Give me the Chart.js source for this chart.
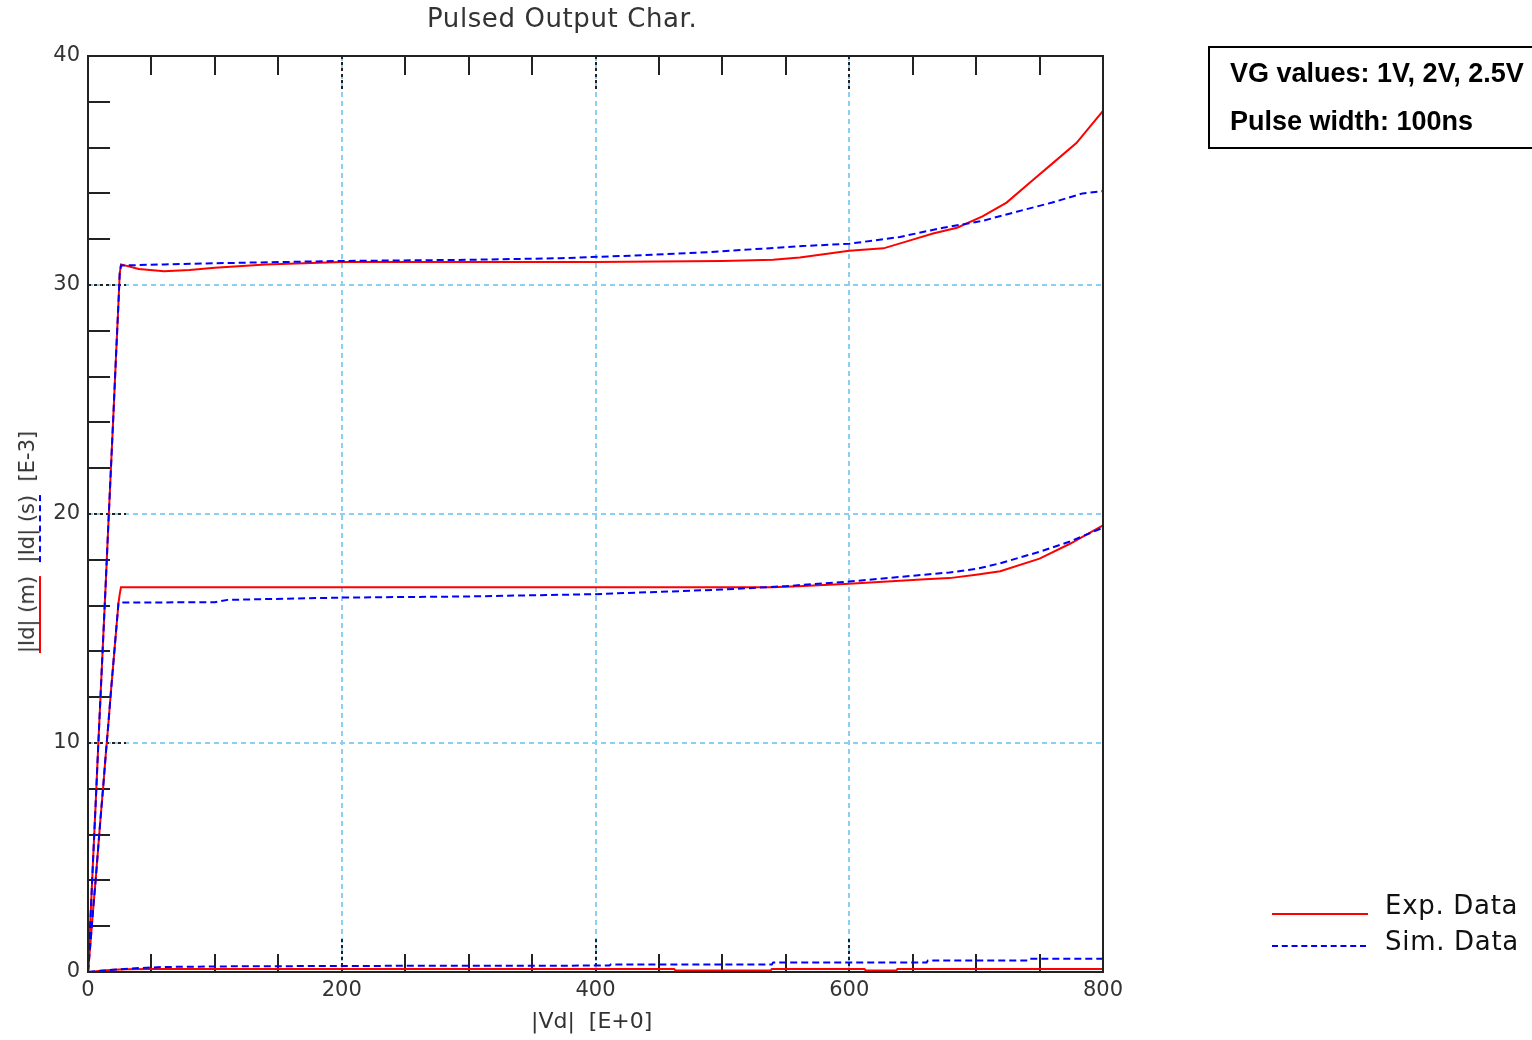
<!DOCTYPE html>
<html>
<head>
<meta charset="utf-8">
<script src="https://cdn.jsdelivr.net/npm/chart.js@4.4.1/dist/chart.umd.min.js"></script>
<style>
  html, body { margin:0; padding:0; background:#fff; }
  body { width:1532px; height:1040px; position:relative; overflow:hidden; font-family:"DejaVu Sans", sans-serif; color:#222; }
  #wrap { position:absolute; left:0; top:0; width:1532px; height:1040px; }
  .abs { position:absolute; white-space:nowrap; }
  #title { left:427px; top:3px; font-size:26px; letter-spacing:0.6px; color:#333; }
  #xTitle { left:531px; top:1008px; font-size:22px; color:#333; }
  #yTitle { left:27px; top:542px; font-size:21px; color:#333; transform:translate(-50%,-50%) rotate(-90deg); }
  #yTitle .m { border-bottom:2px solid #ff0000; }
  #yTitle .s { border-bottom:2px dashed #0000ff; }
  #info { left:1208px; top:46px; width:340px; height:99px; border:2px solid #000; font-family:"Liberation Sans", Arial, sans-serif; font-weight:bold; font-size:27px; color:#000; }
  #info div { position:absolute; left:20px; }
  .lgLine { position:absolute; left:1272px; width:96px; height:0; }
  .lgText { position:absolute; left:1385px; font-size:26px; letter-spacing:0.7px; color:#111; }
</style>
</head>
<body>
<div id="wrap"><canvas id="chart" width="1532" height="1040"></canvas></div>
<div id="title" class="abs">Pulsed Output Char.</div>
<div id="xTitle" class="abs">|Vd|&nbsp; [E+0]</div>
<div id="yTitle" class="abs"><span class="m">|Id| (m)</span>&nbsp; <span class="s">|Id| (s)</span>&nbsp; [E-3]</div>
<div id="info" class="abs">
  <div style="top:10px">VG values: 1V, 2V, 2.5V</div>
  <div style="top:58px">Pulse width: 100ns</div>
</div>
<div class="lgLine" style="top:913px; border-top:2px solid #ff0000;"></div>
<div class="lgText" style="top:890px">Exp. Data</div>
<div class="lgLine" style="top:945px; width:94px; border-top:2px dashed #0000ff;"></div>
<div class="lgText" style="top:926px">Sim. Data</div>
<script>
// |Vd| in V, |Id| in mA (E-3)
const vdExpHigh = [0, 2, 4, 6, 8, 10, 12, 14, 16, 18, 20, 22, 24, 25, 26, 40, 60, 80, 100, 140, 200, 300, 400, 500, 540, 561, 600, 627, 648, 666, 685, 705, 724, 745, 760, 779, 800];
const idExpHigh = [0, 2.4, 4.9, 7.3, 9.8, 12.2, 14.6, 17.0, 19.5, 21.9, 24.3, 26.8, 29.2, 30.5, 30.9, 30.7, 30.6, 30.65, 30.75, 30.9, 31.0, 31.0, 31.0, 31.05, 31.1, 31.2, 31.5, 31.6, 31.95, 32.25, 32.5, 33.0, 33.6, 34.6, 35.3, 36.2, 37.6];
const vdSimHigh = [0, 2, 4, 6, 8, 10, 12, 14, 16, 18, 20, 22, 24, 25, 26, 60, 100, 200, 300, 372, 437, 488, 563, 600, 640, 674, 705, 732, 760, 784, 800];
const idSimHigh = [0, 2.4, 4.9, 7.3, 9.8, 12.2, 14.6, 17.0, 19.5, 21.9, 24.3, 26.8, 29.2, 30.5, 30.85, 30.9, 30.95, 31.05, 31.1, 31.17, 31.3, 31.43, 31.7, 31.8, 32.1, 32.5, 32.8, 33.2, 33.6, 34.0, 34.1];

const vdExpMid = [0, 2, 4, 6, 8, 10, 12, 14, 16, 18, 20, 22, 24, 25, 26, 100, 200, 300, 400, 500, 540, 560, 600, 630, 660, 679, 700, 719, 750, 774, 800];
const idExpMid = [0, 1.3, 2.7, 4.0, 5.4, 6.8, 8.1, 9.5, 10.8, 12.2, 13.5, 14.8, 16.1, 16.5, 16.8, 16.8, 16.8, 16.8, 16.8, 16.8, 16.8, 16.85, 16.95, 17.05, 17.15, 17.2, 17.35, 17.5, 18.05, 18.7, 19.5];
const vdSimMid = [0, 2, 4, 6, 8, 10, 12, 14, 16, 18, 20, 22, 24, 25, 100, 110, 200, 300, 400, 450, 500, 550, 600, 650, 679, 700, 719, 750, 774, 800];
const idSimMid = [0, 1.3, 2.7, 4.0, 5.4, 6.8, 8.1, 9.5, 10.8, 12.2, 13.5, 14.8, 16.1, 16.13, 16.15, 16.25, 16.35, 16.4, 16.5, 16.6, 16.7, 16.85, 17.05, 17.3, 17.45, 17.6, 17.85, 18.35, 18.8, 19.4];

const vdExpLow = [0, 5, 10, 20, 30, 50, 100, 200, 300, 400, 462, 463, 538, 539, 612, 613, 637, 638, 800];
const idExpLow = [0, 0.02, 0.05, 0.1, 0.12, 0.13, 0.13, 0.13, 0.13, 0.13, 0.13, 0.07, 0.07, 0.13, 0.13, 0.07, 0.07, 0.13, 0.13];
const vdSimLow = [0, 10, 20, 40, 60, 120, 250, 411, 412, 539, 540, 661, 662, 741, 742, 800];
const idSimLow = [0, 0.05, 0.1, 0.17, 0.22, 0.25, 0.27, 0.28, 0.33, 0.33, 0.42, 0.42, 0.5, 0.5, 0.58, 0.58];

const xMajor = [0, 200, 400, 600, 800];
const yMajor = [0, 10, 20, 30, 40];

const pts = (xs, ys) => xs.map((v, i) => ({ x: v, y: ys[i] }));
const expStyle = { borderColor:'#ff0000', borderWidth:2, pointRadius:0, showLine:true, order:1 };
const simStyle = { borderColor:'#0000ff', borderWidth:2, borderDash:[7,4], pointRadius:0, showLine:true, order:0 };

const axisFrame = {
  id: 'axisFrame',
  beforeDatasetsDraw(chart){
    const { ctx, chartArea:a, scales:{ x, y } } = chart;
    ctx.save();
    ctx.strokeStyle = '#222';
    ctx.lineWidth = 2;
    for (let v = 50; v < 800; v += 50) {
      const px = Math.round(x.getPixelForValue(v));
      const major = xMajor.includes(v);
      ctx.setLineDash(major ? [3,3] : []);
      ctx.beginPath();
      ctx.moveTo(px, a.top); ctx.lineTo(px, a.top + (major ? 36 : 19));
      ctx.moveTo(px, a.bottom); ctx.lineTo(px, a.bottom - (major ? 33 : 18));
      ctx.stroke();
    }
    for (let v = 2; v < 40; v += 2) {
      const py = Math.round(y.getPixelForValue(v));
      const major = yMajor.includes(v);
      ctx.setLineDash(major ? [3,3] : []);
      ctx.beginPath();
      ctx.moveTo(a.left, py); ctx.lineTo(a.left + (major ? 38 : 22), py);
      ctx.stroke();
    }
    ctx.restore();
  },
  afterDatasetsDraw(chart){
    const { ctx, chartArea:a } = chart;
    ctx.save();
    ctx.strokeStyle = '#222';
    ctx.lineWidth = 2;
    ctx.strokeRect(a.left, a.top, a.right - a.left, a.bottom - a.top);
    ctx.restore();
  }
};

const gridColor = majors => c => {
  const v = c.tick && c.tick.value;
  return (majors.includes(v) && v !== majors[0] && v !== majors[majors.length - 1]) ? '#8ccff2' : 'rgba(0,0,0,0)';
};

new Chart(document.getElementById('chart'), {
  type: 'scatter',
  data: {
    datasets: [
      { label:'Exp. Data', data: pts(vdExpHigh, idExpHigh), ...expStyle },
      { label:'Exp. Data', data: pts(vdExpMid, idExpMid), ...expStyle },
      { label:'Exp. Data', data: pts(vdExpLow, idExpLow), ...expStyle },
      { label:'Sim. Data', data: pts(vdSimHigh, idSimHigh), ...simStyle },
      { label:'Sim. Data', data: pts(vdSimMid, idSimMid), ...simStyle },
      { label:'Sim. Data', data: pts(vdSimLow, idSimLow), ...simStyle }
    ]
  },
  options: {
    responsive: false,
    animation: false,
    devicePixelRatio: 1,
    layout: { padding: { top:56, right:429, bottom:0, left:0 } },
    plugins: { legend:{ display:false }, tooltip:{ enabled:false }, title:{ display:false } },
    scales: {
      x: {
        type:'linear', min:0, max:800,
        afterFit: s => { s.height = 68; },
        border: { display:false, dash:[5,4] },
        grid: { color: gridColor(xMajor), lineWidth:2, drawTicks:false },
        ticks: {
          stepSize:50, autoSkip:false, maxRotation:0, padding:6,
          color:'#333', font:{ family:'DejaVu Sans', size:21 },
          callback: v => xMajor.includes(v) ? String(v) : ''
        }
      },
      y: {
        type:'linear', min:0, max:40,
        afterFit: s => { s.width = 88; },
        border: { display:false, dash:[5,4] },
        grid: { color: gridColor(yMajor), lineWidth:2, drawTicks:false },
        ticks: {
          stepSize:2, autoSkip:false, padding:8,
          color:'#333', font:{ family:'DejaVu Sans', size:21 },
          callback: v => yMajor.includes(v) ? String(v) : ''
        }
      }
    }
  },
  plugins: [axisFrame]
});
</script>
</body>
</html>
